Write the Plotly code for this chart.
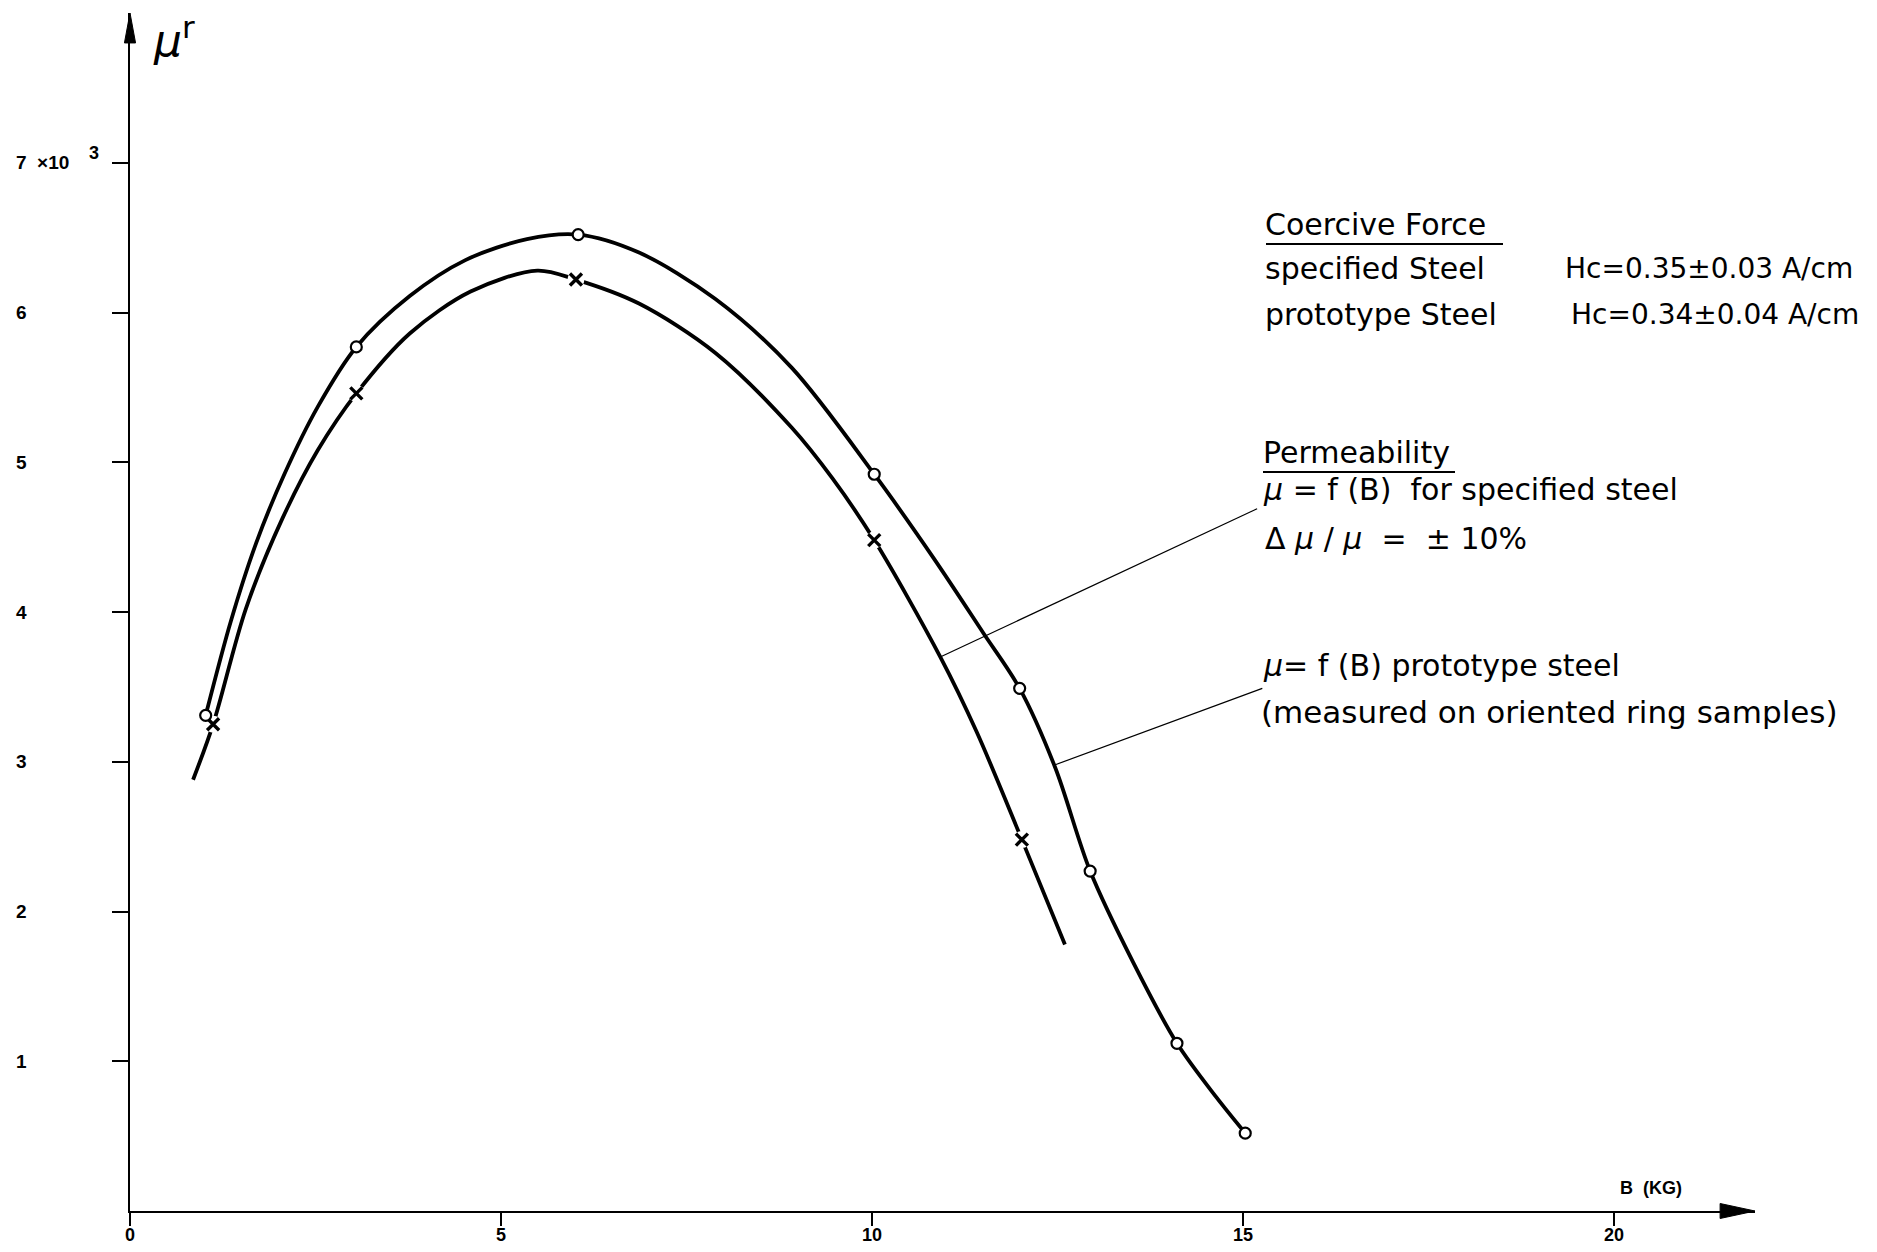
import plotly.graph_objects as go

# ---------------- data ----------------
# prototype steel: open circles (upper curve)
proto_B = [1.02, 3.05, 6.04, 10.03, 11.99, 12.94, 14.11, 15.03]
proto_mu = [3.31, 5.77, 6.52, 4.92, 3.49, 2.27, 1.12, 0.52]
# specified steel: crosses (lower curve)
spec_B = [1.12, 3.05, 6.01, 10.03, 12.02]
spec_mu = [3.25, 5.46, 6.22, 4.48, 2.48]

# traced curve points
upper_B = [1.02, 1.36, 1.70, 2.08, 2.53, 3.05, 3.77, 4.52, 5.35, 6.04, 6.86, 7.89,
           8.92, 10.03, 10.83, 11.50, 11.99, 12.47, 12.94, 13.52, 14.11, 14.64, 15.03]
upper_mu = [3.31, 3.94, 4.46, 4.92, 5.37, 5.77, 6.11, 6.35, 6.49, 6.52, 6.40, 6.09,
            5.63, 4.92, 4.36, 3.86, 3.49, 2.96, 2.27, 1.66, 1.12, 0.76, 0.52]
lower_B = [0.85, 1.12, 1.56, 2.05, 2.53, 3.05, 3.77, 4.59, 5.49, 6.01, 6.86, 7.89,
           8.92, 9.47, 10.03, 10.92, 11.41, 12.02, 12.60]
lower_mu = [2.88, 3.25, 4.02, 4.62, 5.08, 5.46, 5.86, 6.14, 6.28, 6.22, 6.06, 5.73,
            5.23, 4.89, 4.48, 3.70, 3.20, 2.48, 1.78]

x_ticks = [0, 5, 10, 15, 20]
x_ticktext = ["0", "5", "10", "15", "20"]
y_ticks = [1, 2, 3, 4, 5, 6, 7]
y_ticktext = ["1", "2", "3", "4", "5", "6", "7  ×10"]
y_exponent = "3"

# ---------------- geometry (target pixels of the 1877x1252 page) ----------------
OFF = 8                      # default page margin of the html body
W, H = 1877 - 2 * OFF, 1252 - 2 * OFF
X0PX, XPER = 130.0, 74.2
Y0PX, YPER = 1211.0, 149.75
XMAX, YMAX = 21.9, 8.0


def fx(p):  # target pixel -> paper
    return (p - OFF) / W


def fy(p):
    return 1 - (p - OFF) / H


def px(v):  # data -> paper
    return fx(X0PX + v * XPER)


def py(v):
    return fy(Y0PX - v * YPER)


BLACK = "black"
TXT = "DejaVu Sans"
TICKF = "Liberation Sans, Arial"

fig = go.Figure()

fig.add_trace(go.Scatter(x=upper_B, y=upper_mu, mode="lines",
                         line=dict(color=BLACK, width=3.8, shape="spline", smoothing=0.9),
                         hoverinfo="skip", showlegend=False))
fig.add_trace(go.Scatter(x=lower_B, y=lower_mu, mode="lines",
                         line=dict(color=BLACK, width=3.8, shape="spline", smoothing=0.9),
                         hoverinfo="skip", showlegend=False))
# white gaps around the crosses
fig.add_trace(go.Scatter(x=spec_B, y=spec_mu, mode="markers",
                         marker=dict(symbol="circle", size=17, color="white"),
                         hoverinfo="skip", showlegend=False))
fig.add_trace(go.Scatter(x=spec_B, y=spec_mu, mode="markers", name="specified steel",
                         marker=dict(symbol="x-thin", size=12, color=BLACK,
                                     line=dict(width=3.4, color=BLACK)),
                         showlegend=False))
fig.add_trace(go.Scatter(x=proto_B, y=proto_mu, mode="markers", name="prototype steel",
                         marker=dict(symbol="circle", size=11, color="white",
                                     line=dict(width=2.2, color=BLACK)),
                         showlegend=False))

shapes = []
# leader lines
shapes.append(dict(type="line", xref="x", yref="y", x0=10.92, y0=3.70, x1=15.19, y1=4.69,
                   line=dict(color=BLACK, width=1.2)))
shapes.append(dict(type="line", xref="x", yref="y", x0=12.47, y0=2.98, x1=15.26, y1=3.49,
                   line=dict(color=BLACK, width=1.2)))
# arrow heads
shapes.append(dict(type="path", xref="paper", yref="paper",
                   path=f"M {px(XMAX)} {py(0)} L {px(21.43)} {py(0.05)} L {px(21.43)} {py(-0.05)} Z",
                   fillcolor=BLACK, line=dict(color=BLACK, width=1)))
shapes.append(dict(type="path", xref="paper", yref="paper",
                   path=f"M {px(0)} {py(YMAX)} L {px(0.075)} {py(7.8)} L {px(-0.075)} {py(7.8)} Z",
                   fillcolor=BLACK, line=dict(color=BLACK, width=1)))
# underlines
shapes.append(dict(type="line", xref="paper", yref="paper", x0=fx(1266), x1=fx(1503),
                   y0=fy(244), y1=fy(244), line=dict(color=BLACK, width=2)))
shapes.append(dict(type="line", xref="paper", yref="paper", x0=fx(1263), x1=fx(1455),
                   y0=fy(472), y1=fy(472), line=dict(color=BLACK, width=2)))

ann = []


def text(x, y, s, size=30, anchor="left", family=TXT):
    ann.append(dict(x=fx(x), y=fy(y), xref="paper", yref="paper", text=s, showarrow=False,
                    xanchor=anchor, yanchor="middle", borderpad=0,
                    font=dict(family=family, size=size, color=BLACK)))


text(1264, 224, "Coercive Force")
text(1264, 268, "specified Steel")
text(1564, 268, "Hc=0.35±0.03 A/cm", size=28)
text(1264, 314, "prototype Steel")
text(1570, 314, "Hc=0.34±0.04 A/cm", size=28)
text(1262, 452, "Permeability")
text(1262, 490, "<i>μ</i> = f (B)  for specified steel")
text(1264, 539, "Δ <i>μ</i> / <i>μ</i>  =  ± 10%")
text(1262, 666, "<i>μ</i>= f (B) prototype steel")
text(1260, 712, "(measured on oriented ring samples)", size=31)

# tick labels, placed through the axis scales
for v, t in zip(y_ticks, y_ticktext):
    ann.append(dict(x=fx(15), y=py(v), xref="paper", yref="paper", text="<b>" + t + "</b>",
                    showarrow=False, xanchor="left", yanchor="middle", borderpad=0,
                    font=dict(family=TICKF, size=19, color=BLACK)))
ann.append(dict(x=fx(94), y=py(7) + 10 / H, xref="paper", yref="paper",
                text="<b>" + y_exponent + "</b>", showarrow=False, xanchor="center",
                yanchor="middle", borderpad=0, font=dict(family=TICKF, size=18, color=BLACK)))
for v, t in zip(x_ticks, x_ticktext):
    ann.append(dict(x=px(v), y=fy(1235), xref="paper", yref="paper", text="<b>" + t + "</b>",
                    showarrow=False, xanchor="center", yanchor="middle", borderpad=0,
                    font=dict(family=TICKF, size=18, color=BLACK)))
# axis titles
ann.append(dict(x=fx(1651), y=fy(1188), xref="paper", yref="paper", text="<b>B  (KG)</b>",
                showarrow=False, xanchor="center", yanchor="middle", borderpad=0,
                font=dict(family=TICKF, size=18, color=BLACK)))
ann.append(dict(x=fx(152), y=fy(38), xref="paper", yref="paper", text="<i>μ</i><sup>r</sup>",
                showarrow=False, xanchor="left", yanchor="middle", borderpad=0,
                font=dict(family=TXT, size=44, color=BLACK)))

fig.update_layout(
    width=W, height=H, autosize=False,
    margin=dict(l=0, r=0, t=0, b=0),
    paper_bgcolor="white", plot_bgcolor="white",
    shapes=shapes, annotations=ann, showlegend=False,
    xaxis=dict(range=[0, XMAX], domain=[fx(X0PX), fx(X0PX + XMAX * XPER)],
               showline=True, linecolor=BLACK, linewidth=2, mirror=False,
               ticks="outside", ticklen=13, tickwidth=1.5, tickcolor=BLACK,
               tickvals=x_ticks, showticklabels=False,
               showgrid=False, zeroline=False, fixedrange=True),
    yaxis=dict(range=[0, YMAX], domain=[fy(Y0PX), fy(Y0PX - YMAX * YPER)],
               showline=True, linecolor=BLACK, linewidth=2,
               ticks="outside", ticklen=16, tickwidth=1.5, tickcolor=BLACK,
               tickvals=y_ticks, showticklabels=False,
               showgrid=False, zeroline=False, fixedrange=True),
)

fig.write_html("out.html")
